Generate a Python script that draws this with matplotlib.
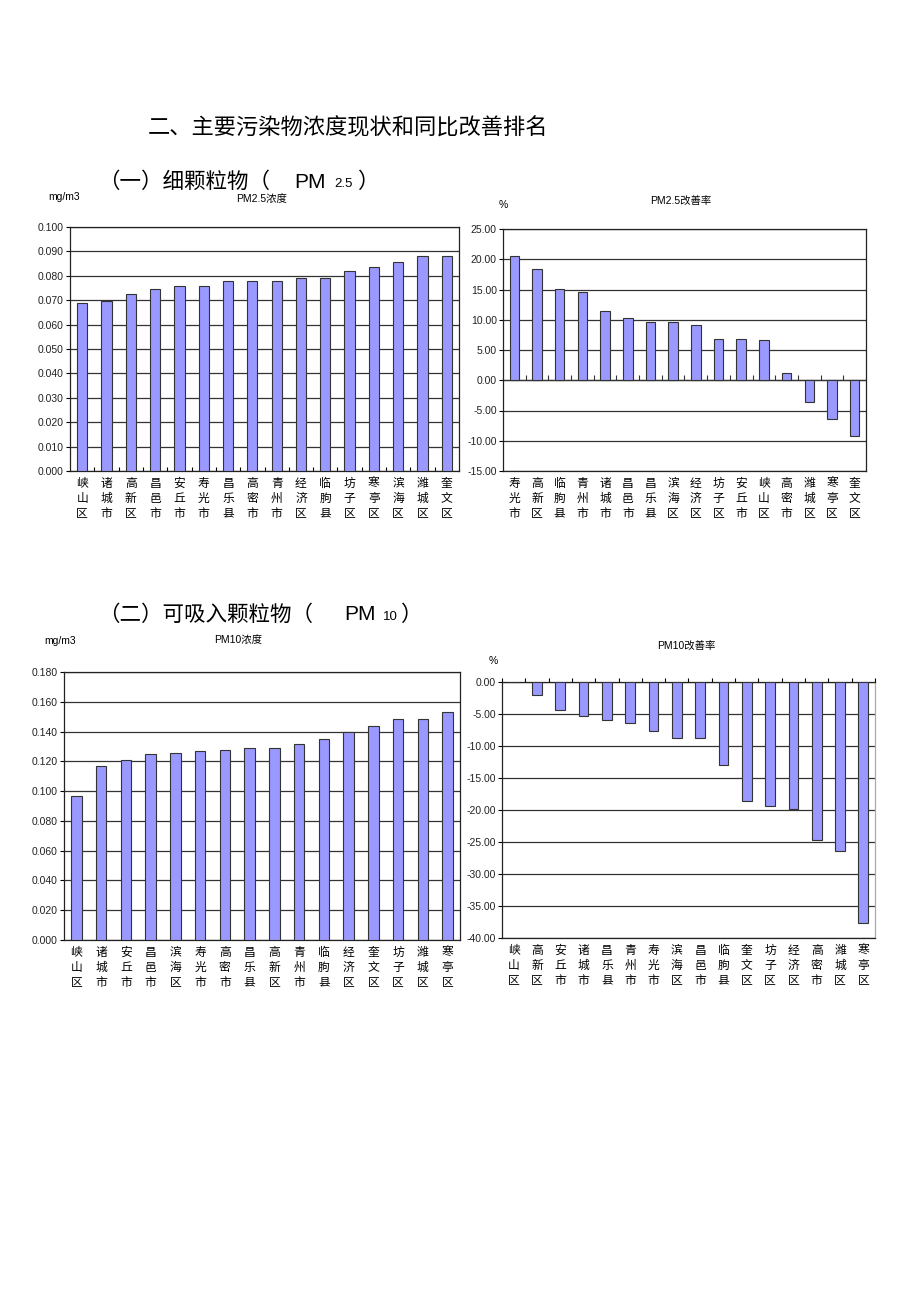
import numpy as np
import matplotlib.pyplot as plt

plt.rcParams['font.family'] = ['Liberation Sans', 'Noto Sans CJK SC', 'DejaVu Sans']

# 数据
pm25_areas = ['峡山区', '诸城市', '高新区', '昌邑市', '安丘市', '寿光市', '昌乐县', '高密市',
              '青州市', '经济区', '临朐县', '坊子区', '寒亭区', '滨海区', '潍城区', '奎文区']
pm25_conc = [0.069, 0.0696, 0.0726, 0.0746, 0.0758, 0.0758, 0.0779, 0.0779,
             0.0779, 0.0791, 0.0791, 0.0821, 0.0838, 0.0855, 0.0883, 0.0883]

pm25_rate_areas = ['寿光市', '高新区', '临朐县', '青州市', '诸城市', '昌邑市', '昌乐县', '滨海区',
                   '经济区', '坊子区', '安丘市', '峡山区', '高密市', '潍城区', '寒亭区', '奎文区']
pm25_rate = [20.5, 18.4, 15.06, 14.56, 11.44, 10.28, 9.61, 9.61,
             9.11, 6.89, 6.89, 6.72, 1.22, -3.56, -6.44, -9.22]

pm10_areas = ['峡山区', '诸城市', '安丘市', '昌邑市', '滨海区', '寿光市', '高密市', '昌乐县',
              '高新区', '青州市', '临朐县', '经济区', '奎文区', '坊子区', '潍城区', '寒亭区']
pm10_conc = [0.0966, 0.1172, 0.1208, 0.1249, 0.1258, 0.1269, 0.1278, 0.1291,
             0.1291, 0.1316, 0.1352, 0.1397, 0.1435, 0.1484, 0.1484, 0.1533]

pm10_rate_areas = ['峡山区', '高新区', '安丘市', '诸城市', '昌乐县', '青州市', '寿光市', '滨海区',
                   '昌邑市', '临朐县', '奎文区', '坊子区', '经济区', '高密市', '潍城区', '寒亭区']
pm10_rate = [0.0, -1.98, -4.39, -5.38, -5.90, -6.48, -7.73, -8.72,
             -8.72, -12.9, -18.64, -19.32, -19.79, -24.65, -26.37, -37.6]

bar_col = '#9999ff'
edge_col = '#333333'
grid_col = '#333333'

fig = plt.figure(figsize=(9.2, 13.03), dpi=100)
W, H = 920, 1303


def fx(x):
    return x / W


def fy(y):
    return 1 - y / H


def add_ax(x0, y0, x1, y1):
    return fig.add_axes([fx(x0), fy(y1), fx(x1 - x0), (y1 - y0) / H])


def vlabels(names):
    return ['\n'.join(n) for n in names]


def setup(ax, names, values, ylim, step, fmt):
    n = len(names)
    x = np.arange(n)
    ax.bar(x, values, width=0.42, color=bar_col, edgecolor=edge_col, linewidth=0.8, zorder=3)
    ax.set_xlim(-0.5, n - 0.5)
    ax.set_ylim(*ylim)
    ticks = np.arange(ylim[0], ylim[1] + step / 2, step)
    ax.set_yticks(ticks)
    ax.set_yticklabels([fmt.format(t) for t in ticks], fontsize=7.5, color='#222222')
    ax.yaxis.grid(True, color=grid_col, linewidth=0.9, zorder=1)
    ax.set_axisbelow(True)
    ax.set_xticks(x)
    ax.set_xticklabels(vlabels(names), fontsize=8.5, linespacing=1.2,
                       family=['Noto Sans CJK SC'])
    ax.tick_params(axis='x', length=0, pad=4)
    ax.tick_params(axis='y', length=3, width=0.8, pad=1.5)
    for s in ax.spines.values():
        s.set_color('#222222')
        s.set_linewidth(0.9)


# 图1 PM2.5浓度
ax1 = add_ax(70, 227, 459, 471)
setup(ax1, pm25_areas, pm25_conc, (0, 0.1), 0.01, '{:.3f}')
ax1.set_xticks(np.arange(0.5, len(pm25_areas) - 0.5), minor=True)
ax1.tick_params(axis='x', which='minor', direction='in', length=3, width=0.8)

# 图2 PM2.5改善率
ax2 = add_ax(503, 229, 866, 471)
setup(ax2, pm25_rate_areas, pm25_rate, (-15, 25), 5, '{:.2f}')
ax2.axhline(0, color=grid_col, linewidth=0.9, zorder=2)
ax2.vlines(np.arange(0.5, len(pm25_rate_areas) - 0.5), 0, 0.8, color='#333333',
           linewidth=0.8, zorder=2)

# 图3 PM10浓度
ax3 = add_ax(64, 672, 460, 940)
setup(ax3, pm10_areas, pm10_conc, (0, 0.18), 0.02, '{:.3f}')

# 图4 PM10改善率
ax4 = add_ax(502, 682, 875, 938)
setup(ax4, pm10_rate_areas, pm10_rate, (-40, 0), 5, '{:.2f}')
ax4.spines['right'].set_color('#aaaaaa')
top = ax4.secondary_xaxis('top')
top.set_xticks(np.arange(-0.5, len(pm10_rate_areas)))
top.set_xticklabels([])
top.tick_params(axis='x', length=3, width=0.8, direction='out')
top.spines['top'].set_visible(False)

# 标题文字
cjk = ['Noto Sans CJK SC', 'DejaVu Sans']
fig.text(fx(148), fy(128), '二、主要污染物浓度现状和同比改善排名', fontsize=16,
         family=cjk, va='center', ha='left')

fig.text(fx(98), fy(182), '（一）细颗粒物（', fontsize=15.5, family=cjk, va='center', ha='left')
fig.text(fx(294), fy(182), 'PM', fontsize=15, va='center', ha='left')
fig.text(fx(334), fy(184), '2.5', fontsize=9.5, va='center', ha='left')
fig.text(fx(358), fy(182), '）', fontsize=15.5, family=cjk, va='center', ha='left')

fig.text(fx(98), fy(615), '（二）可吸入颗粒物（', fontsize=15.5, family=cjk, va='center', ha='left')
fig.text(fx(344), fy(615), 'PM', fontsize=15, va='center', ha='left')
fig.text(fx(383), fy(617), '10', fontsize=9.5, va='center', ha='left')
fig.text(fx(401), fy(615), '）', fontsize=15.5, family=cjk, va='center', ha='left')

fig.text(fx(48), fy(197), 'mg/m3', fontsize=7.5, va='center', ha='left')
fig.text(fx(262), fy(199), 'PM2.5浓度', fontsize=7.5, va='center', ha='center')
fig.text(fx(503), fy(205), '%', fontsize=7.5, va='center', ha='center')
fig.text(fx(681), fy(201), 'PM2.5改善率', fontsize=7.5, va='center', ha='center')

fig.text(fx(44), fy(641), 'mg/m3', fontsize=7.5, va='center', ha='left')
fig.text(fx(238), fy(640), 'PM10浓度', fontsize=7.5, va='center', ha='center')
fig.text(fx(493), fy(661), '%', fontsize=7.5, va='center', ha='center')
fig.text(fx(686), fy(646), 'PM10改善率', fontsize=7.5, va='center', ha='center')

fig.savefig('out.png', dpi=100)
